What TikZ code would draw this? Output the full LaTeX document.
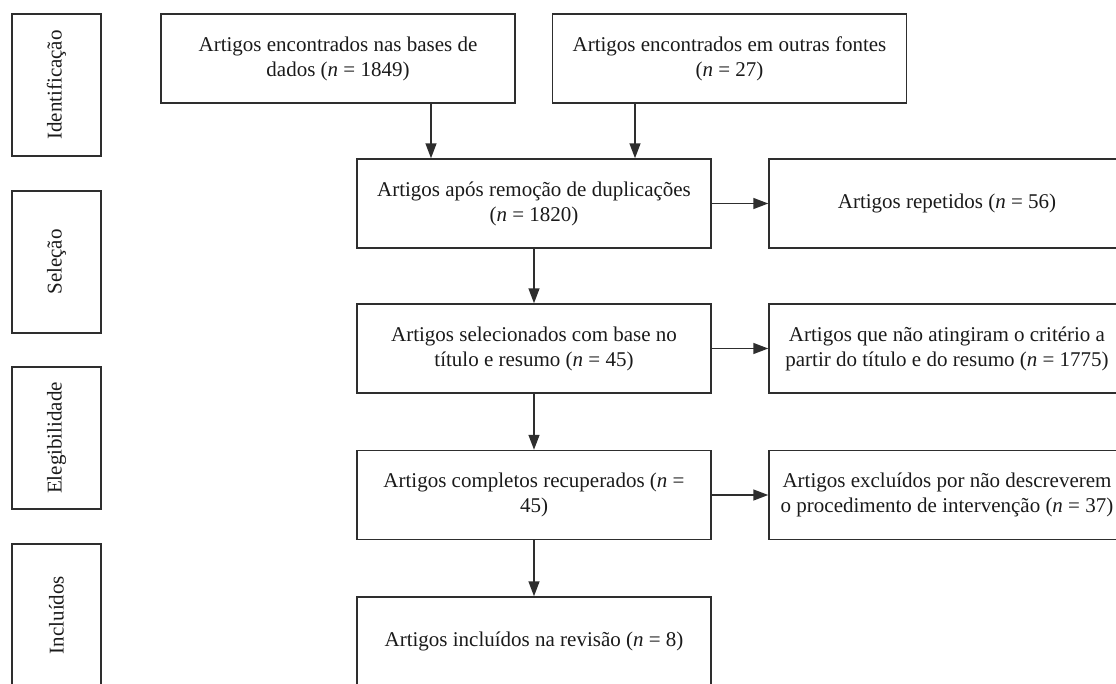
\documentclass[tikz,border=0pt]{standalone}
\usepackage{fontspec}
\setmainfont{Liberation Serif}
\usetikzlibrary{arrows.meta}
\definecolor{lin}{HTML}{2E2E2E}
\definecolor{txt}{HTML}{1A1A1A}
\begin{document}
\begin{tikzpicture}[x=1pt,y=-1pt,
  every node/.style={font=\fontsize{21}{25}\selectfont, text=txt},
  box/.style={draw=lin, line width=1.5pt, minimum width=354pt, minimum height=89pt, inner sep=0pt, align=center},
  side/.style={draw=lin, line width=1.5pt, minimum width=89pt, minimum height=142pt, inner sep=0pt},
  arr/.style={draw=lin, line width=1.5pt, -{Triangle[length=15pt,width=11pt]}}]
\useasboundingbox (0,0) rectangle (1116,683);
\clip (0,0) rectangle (1116,683);
% side labels
\node[side] (s1) at (56.5,85) {};
\node[rotate=90] at (s1.center) {Identificação};
\node[side] (s2) at (56.5,262) {};
\node[rotate=90] at (s2.center) {Seleção};
\node[side] (s3) at (56.5,438) {};
\node[rotate=90] at (s3.center) {Elegibilidade};
\node[side] (s4) at (56.5,615) {};
\node[rotate=90] at (s4.center) {Incluídos};
% main boxes
\node[box] (b1) at (338,58.5) {Artigos encontrados nas bases de\\dados (\textit{n} = 1849)};
\node[box] (b2) at (729.5,58.5) {Artigos encontrados em outras fontes\\(\textit{n} = 27)};
\node[box] (b3) at (534,203.5) {Artigos após remoção de duplicações\\(\textit{n} = 1820)};
\node[box, minimum width=356pt] (r1) at (947,203.5) {Artigos repetidos (\textit{n} = 56)};
\node[box] (b4) at (534,348.5) {Artigos selecionados com base no\\título e resumo (\textit{n} = 45)};
\node[box, minimum width=356pt] (r2) at (947,348.5) {Artigos que não atingiram o critério a\\partir do título e do resumo (\textit{n} = 1775)};
\node[box] (b5) at (534,495) {Artigos completos recuperados (\textit{n} =\\45)};
\node[box, minimum width=356pt] (r3) at (947,495) {Artigos excluídos por não descreverem\\o procedimento de intervenção (\textit{n} = 37)};
\node[box] (b6) at (534,641.5) {Artigos incluídos na revisão (\textit{n} = 8)};
% connectors
\draw[arr] ([xshift=93pt]b1.south) -- ([xshift=-103pt]b3.north);
\draw[arr] ([xshift=-94.5pt]b2.south) -- ([xshift=101pt]b3.north);
\draw[arr] (b3.east) -- (r1.west);
\draw[arr] (b3.south) -- (b4.north);
\draw[arr] (b4.east) -- (r2.west);
\draw[arr] (b4.south) -- (b5.north);
\draw[arr] (b5.east) -- (r3.west);
\draw[arr] (b5.south) -- (b6.north);
\end{tikzpicture}
\end{document}
